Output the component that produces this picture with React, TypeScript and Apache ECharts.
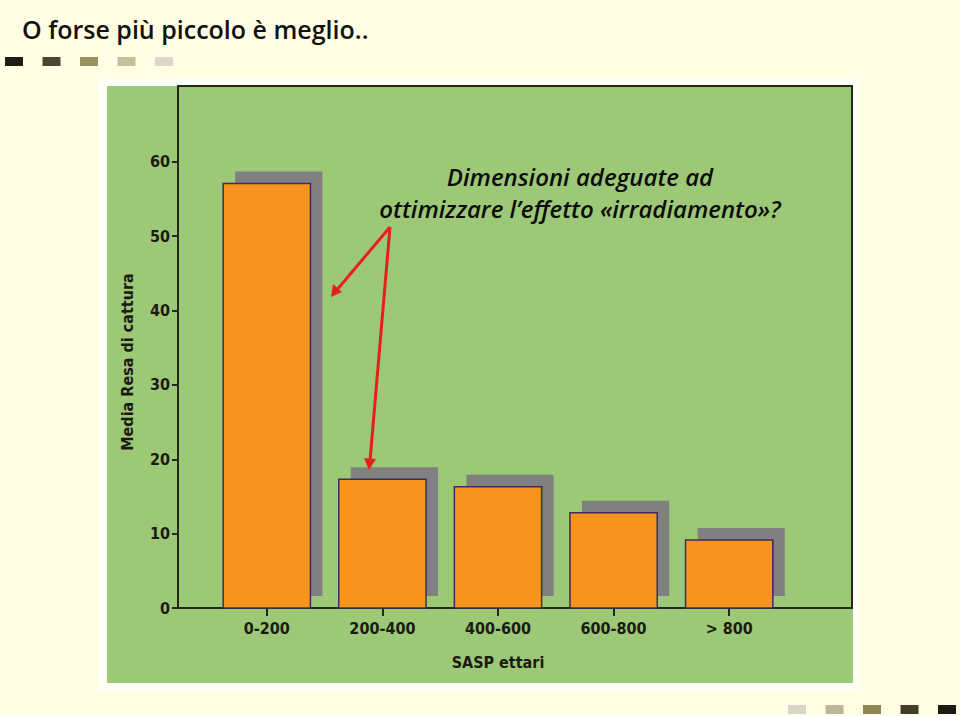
import React, { useEffect, useRef } from "react";
import * as echarts from "echarts";

const categories = ["0-200", "200-400", "400-600", "600-800", "> 800"];
const values = [57.1, 17.3, 16.3, 12.8, 9.15];
const yTicks = [0, 10, 20, 30, 40, 50, 60];
const title = "O forse più piccolo è meglio..";
const yAxisName = "Media Resa di cattura";
const xAxisName = "SASP ettari";
const noteLines = ["Dimensioni adeguate ad", "ottimizzare l\u2019effetto «irradiamento»?"];
const topSwatches = ["#1d1d14", "#4b4631", "#9a9162", "#c5bf9c", "#dcd9cb"];
const bottomSwatches = ["#d9d6c7", "#bdb797", "#8f8752", "#423e2a", "#1c1c14"];

const YMAX = 70.2;

export default function App() {
  const ref = useRef<HTMLDivElement>(null);
  useEffect(() => {
    document.body.style.margin = "0";
    const chart = echarts.init(ref.current!, null, { renderer: "svg" });
    const labelFont = {
      fontFamily: "'DejaVu Sans Condensed', 'DejaVu Sans'",
      fontWeight: "bold" as const,
      fontSize: 16,
      color: "#1b1b12",
    };
    const swatchEls: any[] = [];
    topSwatches.forEach((c, i) => {
      swatchEls.push({ type: "rect", z: 1, shape: { x: 5 + i * 37.5, y: 57, width: 18, height: 9 }, style: { fill: c } });
    });
    bottomSwatches.forEach((c, i) => {
      swatchEls.push({ type: "rect", z: 1, shape: { x: 788 + i * 37.5, y: 705, width: 18, height: 9 }, style: { fill: c } });
    });
    const arrowColor = "#e8201c";
    const noteStyle = {
      fontFamily: "Open Sans",
      fontStyle: "italic",
      fontWeight: 600,
      fontSize: 24,
      fill: "#0d0d0d",
      align: "center",
      verticalAlign: "middle",
    };
    const option: any = {
      animation: false,
      backgroundColor: "#fffde3",
      grid: [
        { left: 178, right: 108, top: 86, bottom: 108, show: true, borderColor: "#25281a", borderWidth: 2, backgroundColor: "transparent", z: 1 },
        { left: 209, right: 173, top: 86, bottom: 108, z: 2 },
      ],
      xAxis: [
        { gridIndex: 0, type: "value", min: 0, max: 1, show: false },
        {
          gridIndex: 1,
          type: "category",
          data: categories,
          axisLine: { show: false },
          axisTick: { show: true, alignWithLabel: true, length: 8, lineStyle: { color: "#25281a", width: 2 } },
          axisLabel: { ...labelFont, margin: 12 },
          name: xAxisName,
          nameLocation: "middle",
          nameGap: 46,
          nameTextStyle: { ...labelFont },
        },
      ],
      yAxis: [
        {
          gridIndex: 0,
          type: "value",
          min: 0,
          max: YMAX,
          interval: 10,
          splitLine: { show: false },
          axisLine: { show: true, lineStyle: { color: "#25281a", width: 2 } },
          axisTick: { show: true, length: 6, customValues: yTicks, lineStyle: { color: "#25281a", width: 2 } },
          axisLabel: { ...labelFont, margin: 8, customValues: yTicks, formatter: (v: number) => (v <= 60 ? String(v) : "") },
        },
        { gridIndex: 1, type: "value", min: 0, max: YMAX, show: false, splitLine: { show: false } },
      ],
      series: [
        {
          type: "custom",
          xAxisIndex: 1,
          yAxisIndex: 1,
          z: 3,
          data: values.map((v, i) => [i, v]),
          renderItem: (params: any, api: any) => {
            const idx = api.value(0);
            const v = api.value(1);
            const top = api.coord([idx, v]);
            const base = api.coord([idx, 0]);
            const w = api.size([1, 0])[0] * 0.755;
            const x = top[0] - w / 2;
            const h = base[1] - top[1];
            return {
              type: "group",
              children: [
                { type: "rect", shape: { x: x + 12, y: top[1] - 12, width: w, height: h }, style: { fill: "#808080" } },
                { type: "rect", shape: { x, y: top[1], width: w, height: h }, style: { fill: "#f7941f", stroke: "#3d2c5e", lineWidth: 1.5 } },
              ],
            };
          },
        },
      ],
      graphic: [
        { type: "rect", z: -20, shape: { x: 98, y: 79, width: 761, height: 612 }, style: { fill: "#fffff6" } },
        { type: "rect", z: -19, shape: { x: 107, y: 86, width: 746, height: 597 }, style: { fill: "#9dc877" } },
        ...swatchEls,
        {
          type: "text",
          z: 50,
          left: 22,
          top: 16,
          style: { text: title, fontFamily: "Open Sans", fontSize: 25, fontWeight: 600, fill: "#111111" },
        },
        {
          type: "text",
          z: 50,
          x: 127,
          y: 362,
          rotation: Math.PI / 2,
          style: {
            text: yAxisName,
            fontFamily: labelFont.fontFamily,
            fontWeight: "bold",
            fontSize: 16,
            fill: labelFont.color,
            align: "center",
            verticalAlign: "middle",
          },
        },
        { type: "text", z: 50, x: 580, y: 176, style: { ...noteStyle, text: noteLines[0] } },
        { type: "text", z: 50, x: 580, y: 208, style: { ...noteStyle, text: noteLines[1] } },
        { type: "line", z: 60, shape: { x1: 390, y1: 227, x2: 336, y2: 291 }, style: { stroke: arrowColor, lineWidth: 3 } },
        { type: "polygon", z: 60, shape: { points: [[331, 297], [333, 284], [342, 292]] }, style: { fill: arrowColor } },
        { type: "line", z: 60, shape: { x1: 390, y1: 227, x2: 370, y2: 461 }, style: { stroke: arrowColor, lineWidth: 3 } },
        { type: "polygon", z: 60, shape: { points: [[369, 470], [364, 458], [376, 459]] }, style: { fill: arrowColor } },
      ],
    };
    chart.setOption(option);
    return () => chart.dispose();
  }, []);
  return <div ref={ref} style={{ width: 960, height: 716 }} />;
}
